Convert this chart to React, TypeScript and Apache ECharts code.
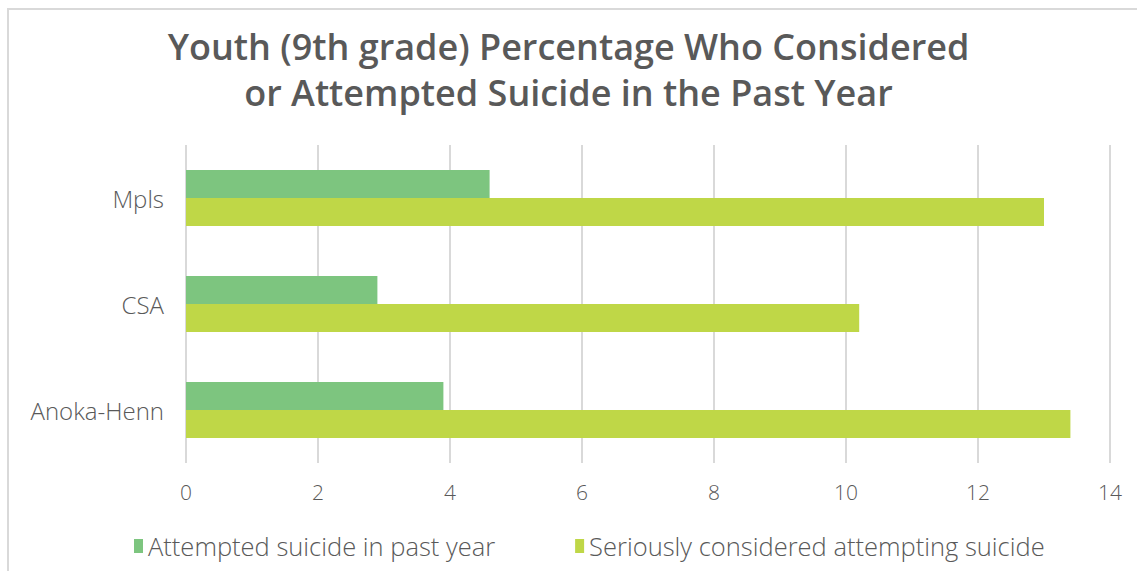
import React, { useEffect, useRef } from "react";
import * as echarts from "echarts";

const categories = ["Mpls", "CSA", "Anoka-Henn"];
const attempted = [4.6, 2.9, 3.9];
const considered = [13.0, 10.2, 13.4];
const seriesNames = ["Attempted suicide in past year", "Seriously considered attempting suicide"];
const titleLines = ["Youth (9th grade) Percentage Who Considered", "or Attempted Suicide in the Past Year"];

export default function App() {
  const ref = useRef<HTMLDivElement>(null);
  useEffect(() => {
    if (!ref.current) return;
    const chart = echarts.init(ref.current, null, { renderer: "svg" });
    const textColor = "#595959";
    const font = "'Open Sans', sans-serif";
    const titleStyle = {
      fontFamily: font,
      fontSize: 36,
      fontWeight: 600,
      color: textColor,
      lineHeight: 40,
    };
    chart.setOption({
      animation: false,
      backgroundColor: "#ffffff",
      title: [
        { text: titleLines[0], left: "center", top: 26, padding: 0, textStyle: titleStyle },
        { text: titleLines[1], left: "center", top: 72, padding: 0, textStyle: titleStyle },
      ],
      graphic: [
        { type: "line", shape: { x1: 7, y1: 9, x2: 1137, y2: 9 }, style: { stroke: "#D9D9D9", lineWidth: 2 } },
        { type: "line", shape: { x1: 8, y1: 9, x2: 8, y2: 571 }, style: { stroke: "#D9D9D9", lineWidth: 2 } },
      ],
      grid: { left: 186, right: 27, top: 145, bottom: 108 },
      legend: {
        data: seriesNames,
        left: 129,
        top: 528,
        itemWidth: 9,
        itemHeight: 14,
        itemGap: 80,
        icon: "rect",
        textStyle: { fontFamily: font, fontSize: 25.5, fontWeight: 300, color: textColor },
      },
      xAxis: {
        type: "value",
        min: 0,
        max: 14,
        interval: 2,
        axisLine: { show: false },
        axisTick: { show: false },
        axisLabel: { fontFamily: font, fontSize: 21, fontWeight: 300, color: textColor, margin: 18 },
        splitLine: { lineStyle: { color: "#D9D9D9", width: 2 } },
      },
      yAxis: {
        type: "category",
        data: categories,
        inverse: true,
        axisLine: { show: false },
        axisTick: { show: false },
        axisLabel: { fontFamily: font, fontSize: 24, fontWeight: 300, color: textColor, margin: 22 },
      },
      series: [
        {
          name: seriesNames[0],
          type: "bar",
          data: attempted,
          barWidth: 28,
          barGap: "0%",
          itemStyle: { color: "#7DC57F" },
        },
        {
          name: seriesNames[1],
          type: "bar",
          data: considered,
          barWidth: 28,
          barGap: "0%",
          itemStyle: { color: "#BFD747" },
        },
      ],
    });
    return () => chart.dispose();
  }, []);
  return (
    <div
      ref={ref}
      style={{ position: "absolute", left: 0, top: 0, width: 1137, height: 571 }}
    />
  );
}
